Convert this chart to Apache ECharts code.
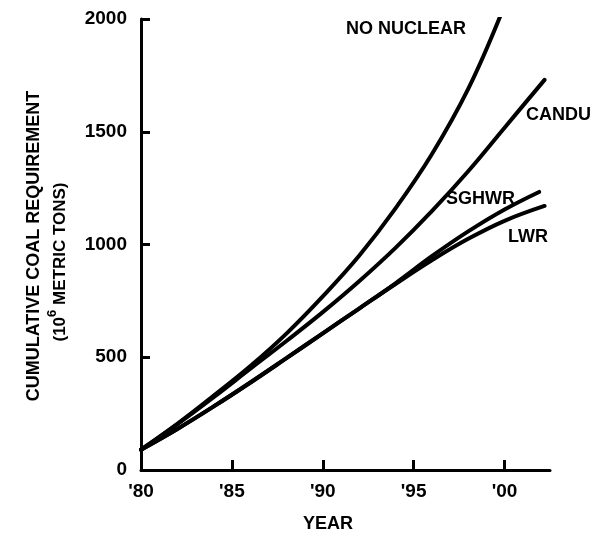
<!DOCTYPE html>
<html>
<head>
<meta charset="utf-8">
<script src="https://cdn.jsdelivr.net/npm/echarts@6/dist/echarts.min.js"></script>
<style>
  html, body { margin: 0; padding: 0; background: #fff; }
  #chart { width: 606px; height: 533px; }
</style>
</head>
<body>
<div id="chart"></div>
<script>
// data: year -> cumulative coal (10^6 metric tons)
const noNuclearYears = [1980, 1982, 1984, 1986, 1988, 1990, 1992, 1994, 1996, 1998, 1999.8]
const noNuclearVals  = [90, 205, 330, 460, 605, 770, 950, 1160, 1400, 1690, 2020]

const canduYears = [1980, 1982, 1984, 1986, 1988, 1990, 1992, 1994, 1996, 1998, 2000, 2002.2]
const canduVals  = [90, 203, 323, 448, 572, 700, 837, 985, 1148, 1325, 1518, 1730]

const sghwrYears = [1980, 1982, 1984, 1986, 1988, 1990, 1992, 1994, 1996, 1998, 2000, 2001.9]
const sghwrVals  = [90, 182, 282, 387, 496, 606, 716, 828, 948, 1058, 1155, 1233]

const lwrYears = [1980, 1982, 1984, 1986, 1988, 1990, 1992, 1994, 1996, 1998, 2000, 2002.2]
const lwrVals  = [90, 182, 282, 387, 496, 606, 716, 825, 930, 1025, 1105, 1171]

const xTickLabels = { 1980: "'80", 1985: "'85", 1990: "'90", 1995: "'95", 2000: "'00" }

const font = 'Liberation Sans, Arial, sans-serif'
const pairs = (xs, ys) => xs.map((x, i) => [x, ys[i]])

const lineSeries = (name, xs, ys) => ({
  name,
  type: 'line',
  data: pairs(xs, ys),
  smooth: 0.4,
  symbol: 'none',
  silent: true,
  lineStyle: { color: '#000', width: 4, cap: 'round' }
})

const label = (text, x, y) => ({
  type: 'text',
  x, y,
  style: { text, fill: '#000', font: 'bold 18px ' + font, align: 'left', verticalAlign: 'middle' }
})

const chart = echarts.init(document.getElementById('chart'), null, { renderer: 'canvas' })

chart.setOption({
  animation: false,
  backgroundColor: '#fff',
  grid: { left: 141, top: 19, right: 56, bottom: 63 },
  xAxis: {
    type: 'value',
    min: 1980,
    max: 2002.5,
    interval: 5,
    splitLine: { show: false },
    axisLine: { lineStyle: { color: '#000', width: 3 } },
    axisTick: { inside: true, length: 10, lineStyle: { color: '#000', width: 3 } },
    axisLabel: {
      color: '#000', fontFamily: font, fontWeight: 'bold', fontSize: 19, margin: 12,
      formatter: v => xTickLabels[v] || '',
      showMaxLabel: false
    }
  },
  yAxis: {
    type: 'value',
    min: 0,
    max: 2000,
    interval: 500,
    splitLine: { show: false },
    axisLine: { lineStyle: { color: '#000', width: 3 } },
    axisTick: { inside: true, length: 9, lineStyle: { color: '#000', width: 3 } },
    axisLabel: { color: '#000', fontFamily: font, fontWeight: 'bold', fontSize: 19, margin: 14, formatter: v => String(v) }
  },
  series: [
    lineSeries('NO NUCLEAR', noNuclearYears, noNuclearVals),
    lineSeries('CANDU', canduYears, canduVals),
    lineSeries('SGHWR', sghwrYears, sghwrVals),
    lineSeries('LWR', lwrYears, lwrVals)
  ],
  graphic: [
    label('NO NUCLEAR', 346, 29),
    label('CANDU', 526, 115),
    label('SGHWR', 446, 199),
    label('LWR', 508, 237),
    {
      type: 'text', x: 328, y: 524,
      style: { text: 'YEAR', fill: '#000', font: 'bold 18px ' + font, align: 'center', verticalAlign: 'middle' }
    },
    {
      type: 'text', x: 34, y: 246, rotation: Math.PI / 2,
      style: { text: 'CUMULATIVE COAL REQUIREMENT', fill: '#000', font: 'bold 18px ' + font, align: 'center', verticalAlign: 'middle' }
    },
    {
      type: 'text', x: 60, y: 262, rotation: Math.PI / 2,
      style: {
        text: '{a|(10}{b|6}{a| METRIC TONS)}',
        fill: '#000', align: 'center', verticalAlign: 'middle',
        rich: {
          a: { fontFamily: font, fontWeight: 'bold', fontSize: 17, lineHeight: 28, fill: '#000' },
          b: { fontFamily: font, fontWeight: 'bold', fontSize: 13, lineHeight: 13, verticalAlign: 'top', fill: '#000' }
        }
      }
    }
  ]
})
</script>
</body>
</html>
